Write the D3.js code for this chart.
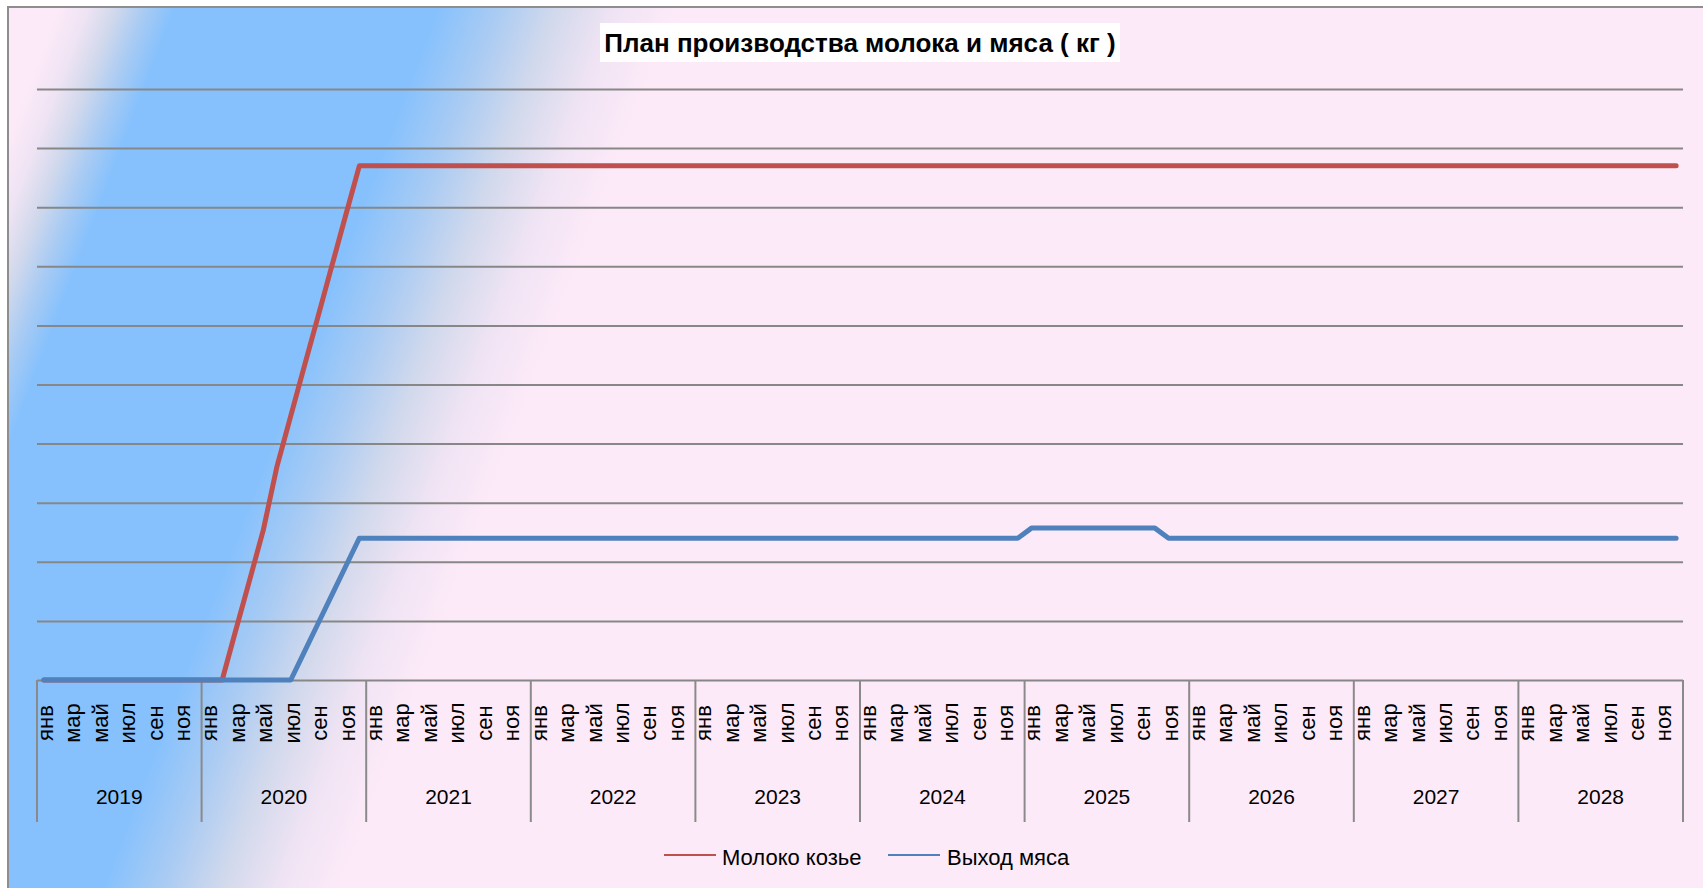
<!DOCTYPE html>
<html><head><meta charset="utf-8">
<script src="https://cdn.jsdelivr.net/npm/d3@7"></script>
<style>html,body{margin:0;padding:0;background:#fff;overflow:hidden;}svg{display:block;}</style>
</head><body>
<script>
// ---- data ----
const title = "План производства молока и мяса ( кг )";
const years = [2019,2020,2021,2022,2023,2024,2025,2026,2027,2028];
const months = ["янв","фев","мар","апр","май","июн","июл","авг","сен","окт","ноя","дек"];
const shownMonths = ["янв","мар","май","июл","сен","ноя"];
const seriesNames = ["Молоко козье","Выход мяса"];
const milk2019 = [0,0,0,0,0,0,0,0,0,0,0,0];
const milk2020 = [0,0,85,169,254,362,447,532,616,701,786,870];
const milk2021 = [870,870,870,870,870,870,870,870,870,870,870,870];
const milk2022 = [870,870,870,870,870,870,870,870,870,870,870,870];
const milk2023 = [870,870,870,870,870,870,870,870,870,870,870,870];
const milk2024 = [870,870,870,870,870,870,870,870,870,870,870,870];
const milk2025 = [870,870,870,870,870,870,870,870,870,870,870,870];
const milk2026 = [870,870,870,870,870,870,870,870,870,870,870,870];
const milk2027 = [870,870,870,870,870,870,870,870,870,870,870,870];
const milk2028 = [870,870,870,870,870,870,870,870,870,870,870,870];
const meat2019 = [0,0,0,0,0,0,0,0,0,0,0,0];
const meat2020 = [0,0,0,0,0,0,0,48,96,144,192,240];
const meat2021 = [240,240,240,240,240,240,240,240,240,240,240,240];
const meat2022 = [240,240,240,240,240,240,240,240,240,240,240,240];
const meat2023 = [240,240,240,240,240,240,240,240,240,240,240,240];
const meat2024 = [240,240,240,240,240,240,240,240,240,240,240,240];
const meat2025 = [257,257,257,257,257,257,257,257,257,257,240,240];
const meat2026 = [240,240,240,240,240,240,240,240,240,240,240,240];
const meat2027 = [240,240,240,240,240,240,240,240,240,240,240,240];
const meat2028 = [240,240,240,240,240,240,240,240,240,240,240,240];
const yTicks = [0,100,200,300,400,500,600,700,800,900,1000];

const milk = [].concat(milk2019,milk2020,milk2021,milk2022,milk2023,milk2024,milk2025,milk2026,milk2027,milk2028);
const meat = [].concat(meat2019,meat2020,meat2021,meat2022,meat2023,meat2024,meat2025,meat2026,meat2027,meat2028);
const cats = [];
years.forEach(y => months.forEach(m => cats.push(y + "-" + m)));

// ---- layout ----
const W = 1703, H = 888;
const svg = d3.select("body").append("svg").attr("width", W).attr("height", H);
const defs = svg.append("defs");
const g = defs.append("linearGradient").attr("id","bg").attr("gradientUnits","userSpaceOnUse")
  .attr("x1",0).attr("y1",0).attr("x2",699).attr("y2",266);
[[0,"#fdeaf8"],[60,"#fdeaf8"],[90,"#efe4f4"],[118,"#d2d9ec"],[148,"#a9cbf3"],[178,"#86c1fd"],
 [440,"#86c1fd"],[500,"#a9cbf3"],[560,"#d2d9ec"],[620,"#f0e4f4"],[680,"#fdeaf8"],[800,"#fdeaf8"]]
  .forEach(s => g.append("stop").attr("offset",s[0]/800).attr("stop-color",s[1]));

svg.append("rect").attr("x",8).attr("y",7).attr("width",W+20).attr("height",H+20)
  .attr("fill","url(#bg)").attr("stroke","#8e8e8e").attr("stroke-width",2);

const x0 = 37, x1 = 1683, yTop = 89, yBase = 680;
const x = d3.scaleBand().domain(cats).range([x0, x1]).padding(0);
const y = d3.scaleLinear().domain([0,1000]).range([yBase, yTop]);
const cx = i => x(cats[i]) + x.bandwidth()/2;

// gridlines via axis
const grid = svg.append("g").attr("transform",`translate(${x0},0)`)
  .call(d3.axisLeft(y).tickValues(yTicks).tickSize(-(x1-x0)).tickFormat(""));
grid.select(".domain").remove();
grid.selectAll("line").attr("stroke","#878787").attr("stroke-width",2);

// category separators
const sepBottom = 822;
const seps = years.map(yr => x(yr + "-янв")).concat([x1]);
svg.append("g").selectAll("line").data(seps).join("line")
  .attr("x1",d=>d).attr("x2",d=>d).attr("y1",yBase).attr("y2",sepBottom)
  .attr("stroke","#8a8a8a").attr("stroke-width",2);

// month labels
const monthG = svg.append("g").attr("font-family","Liberation Sans, Arial, sans-serif").attr("font-size",22).attr("fill","#000");
cats.forEach((c,i) => {
  const m = months[i % 12];
  if (shownMonths.indexOf(m) < 0) return;
  monthG.append("text").attr("transform",`translate(${cx(i)+1.5},723) rotate(-90)`)
    .attr("text-anchor","middle").attr("dominant-baseline","central").text(m);
});
// year labels
svg.append("g").selectAll("text").data(years).join("text")
  .attr("x", yr => x(yr+"-янв") + x.bandwidth()*6)
  .attr("y", 804).attr("text-anchor","middle")
  .attr("font-family","Liberation Sans, Arial, sans-serif").attr("font-size",21)
  .text(d=>d);

// lines
const line = d3.line().x((d,i)=>cx(i)).y(d=>y(d));
svg.append("path").datum(milk).attr("d",line).attr("fill","none")
  .attr("stroke","#c0504d").attr("stroke-width",5).attr("stroke-linejoin","round").attr("stroke-linecap","round");
svg.append("path").datum(meat).attr("d",line).attr("fill","none")
  .attr("stroke","#4f81bd").attr("stroke-width",5).attr("stroke-linejoin","round").attr("stroke-linecap","round");

// title
svg.append("rect").attr("x",600).attr("y",23).attr("width",520).attr("height",39).attr("fill","#fff");
svg.append("text").attr("x",860).attr("y",52).attr("text-anchor","middle")
  .attr("font-family","Liberation Sans, Arial, sans-serif").attr("font-weight","bold").attr("font-size",26)
  .text(title);

// legend
const legItems = [
  {name: seriesNames[0], color:"#c0504d", lx:664, tx:722},
  {name: seriesNames[1], color:"#4f81bd", lx:888, tx:947}
];
const leg = svg.append("g");
legItems.forEach(d => {
  leg.append("line").attr("x1",d.lx).attr("x2",d.lx+52).attr("y1",855).attr("y2",855)
    .attr("stroke",d.color).attr("stroke-width",2);
  leg.append("text").attr("x",d.tx).attr("y",865).attr("font-family","Liberation Sans, Arial, sans-serif")
    .attr("font-size",22).text(d.name);
});
</script>
</body></html>
